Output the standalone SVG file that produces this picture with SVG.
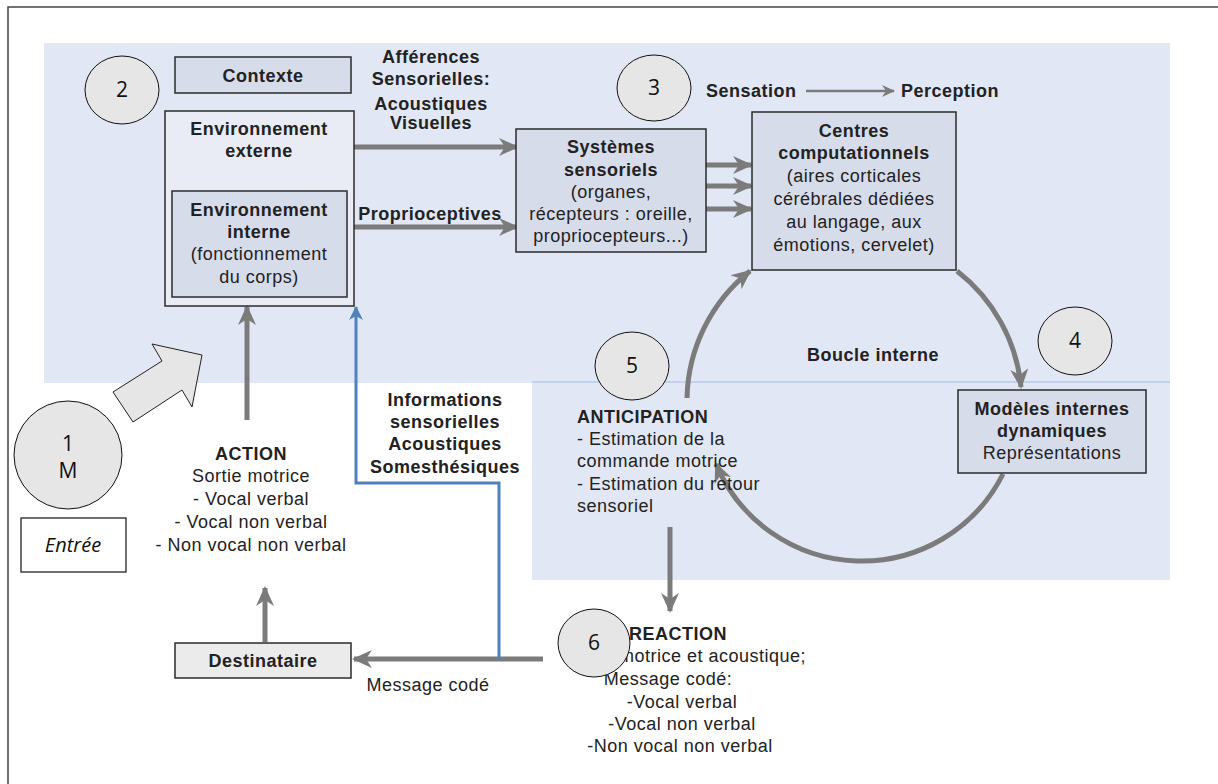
<svg xmlns="http://www.w3.org/2000/svg" width="1218" height="784" viewBox="0 0 1218 784">
<defs>
<marker id="ah" markerUnits="userSpaceOnUse" markerWidth="22" markerHeight="20" refX="18" refY="10" orient="auto">
<path d="M0,1 L20,10 L0,19 L6,10 z" fill="#7b7b7b"/>
</marker>
<marker id="ahs" markerUnits="userSpaceOnUse" markerWidth="14" markerHeight="12" refX="12" refY="6" orient="auto">
<path d="M0,0 L13,6 L0,12 L4,6 z" fill="#7b7b7b"/>
</marker>
<marker id="ahb" markerUnits="userSpaceOnUse" markerWidth="16" markerHeight="14" refX="13" refY="7" orient="auto">
<path d="M0,0 L14,7 L0,14 L4,7 z" fill="#4f81bd"/>
</marker>
</defs>
<style>
.t{font-family:"Liberation Sans",Arial,sans-serif;font-size:18px;letter-spacing:0.5px;fill:#222;text-anchor:middle}
.b{font-weight:bold}
.l{text-anchor:start}
.n{font-family:"Open Sans",sans-serif;font-size:21px;fill:#111;text-anchor:middle}
.c{fill:#e6e6e6;stroke:#111;stroke-width:1}
.box{fill:#d7dcea;stroke:#2b2b2b;stroke-width:1.5}
.g{fill:none;stroke:#7b7b7b;stroke-width:5}
</style>
<rect x="0" y="0" width="1218" height="784" fill="#ffffff"/>
<rect x="8" y="7" width="1240" height="800" fill="none" stroke="#444" stroke-width="1.5"/>
<path d="M44,43 H1170 V580 H532 V383 H44 Z" fill="#e1e7f4"/>
<path d="M532,382 H1170" stroke="#b9c8e6" stroke-width="1.5"/>

<g id="connectors">
<path class="g" d="M354,147 H517" marker-end="url(#ah)"/>
<path class="g" d="M354,227 H517" marker-end="url(#ah)"/>
<path class="g" d="M706,165 H751" marker-end="url(#ah)"/>
<path class="g" d="M706,186 H751" marker-end="url(#ah)"/>
<path class="g" d="M706,209 H751" marker-end="url(#ah)"/>
<path d="M806,91 H894" stroke="#7b7b7b" stroke-width="2.5" fill="none" marker-end="url(#ahs)"/>
<path class="g" d="M957,271 A167,167 0 0 1 1021,387" marker-end="url(#ah)"/>
<path class="g" d="M1003,474 A158,158 0 0 1 716,464" marker-end="url(#ah)"/>
<path class="g" d="M687,398 A167,167 0 0 1 750,271" marker-end="url(#ah)"/>
<path class="g" d="M670,527 V611" marker-end="url(#ah)"/>
<path class="g" d="M543,659 H354" marker-end="url(#ah)"/>
<path class="g" d="M247,420 V307" marker-end="url(#ah)"/>
<path class="g" d="M265,642 V588" marker-end="url(#ah)"/>
<path d="M499,659 V483 H356 V307" fill="none" stroke="#4f81bd" stroke-width="3" marker-end="url(#ahb)"/>
<polygon points="113,392 162,361 152,344 202,355 192,407 182,390 133,422" fill="#e6e6e6" stroke="#222" stroke-width="1"/>
</g>

<g id="contexte">
<rect class="box" x="175" y="57" width="176" height="36"/>
<text class="t b" x="263" y="82">Contexte</text>
</g>
<g id="env-externe">
<rect x="165" y="111" width="189" height="195" fill="#e9ecf5" stroke="#2b2b2b" stroke-width="1.5"/>
<text class="t b" x="259" y="135">Environnement</text>
<text class="t b" x="259" y="157">externe</text>
</g>
<g id="env-interne">
<rect class="box" x="172" y="191" width="175" height="106"/>
<text class="t b" x="259" y="216">Environnement</text>
<text class="t b" x="259" y="238">interne</text>
<text class="t" x="259" y="260">(fonctionnement</text>
<text class="t" x="259" y="283">du corps)</text>
</g>
<g id="afferences">
<text class="t b" x="431" y="63">Afférences</text>
<text class="t b" x="431" y="85">Sensorielles:</text>
<text class="t b" x="431" y="110">Acoustiques</text>
<text class="t b" x="431" y="129">Visuelles</text>
<text class="t b" x="430" y="220">Proprioceptives</text>
</g>
<g id="systemes">
<rect class="box" x="516" y="129" width="190" height="123"/>
<text class="t b" x="611" y="153">Systèmes</text>
<text class="t b" x="611" y="176">sensoriels</text>
<text class="t" x="611" y="198">(organes,</text>
<text class="t" x="611" y="220">récepteurs : oreille,</text>
<text class="t" x="611" y="242">propriocepteurs...)</text>
</g>
<g id="sensation">
<text class="t b l" x="706" y="97">Sensation</text>
<text class="t b l" x="901" y="97">Perception</text>
</g>
<g id="centres">
<rect class="box" x="752" y="112" width="204" height="158"/>
<text class="t b" x="854" y="137">Centres</text>
<text class="t b" x="854" y="159">computationnels</text>
<text class="t" x="854" y="182">(aires corticales</text>
<text class="t" x="854" y="205">cérébrales dédiées</text>
<text class="t" x="854" y="228">au langage, aux</text>
<text class="t" x="854" y="251">émotions, cervelet)</text>
</g>
<g id="boucle">
<text class="t b" x="873" y="361">Boucle interne</text>
</g>
<g id="modeles">
<rect class="box" x="958" y="390" width="188" height="83"/>
<text class="t b" x="1052" y="415">Modèles internes</text>
<text class="t b" x="1052" y="437">dynamiques</text>
<text class="t" x="1052" y="459">Représentations</text>
</g>
<g id="anticipation">
<text class="t b l" x="577" y="423">ANTICIPATION</text>
<text class="t l" x="577" y="445">- Estimation de la</text>
<text class="t l" x="577" y="467">commande motrice</text>
<text class="t l" x="577" y="490">- Estimation du retour</text>
<text class="t l" x="577" y="512">sensoriel</text>
</g>
<g id="informations">
<text class="t b" x="445" y="406">Informations</text>
<text class="t b" x="445" y="428">sensorielles</text>
<text class="t b" x="445" y="450">Acoustiques</text>
<text class="t b" x="445" y="473">Somesthésiques</text>
</g>
<g id="action">
<text class="t b" x="251" y="460">ACTION</text>
<text class="t" x="251" y="482">Sortie motrice</text>
<text class="t" x="251" y="505">- Vocal verbal</text>
<text class="t" x="251" y="528">- Vocal non verbal</text>
<text class="t" x="251" y="551">- Non vocal non verbal</text>
</g>
<g id="destinataire">
<rect x="175" y="643" width="176" height="35" fill="#ebebeb" stroke="#2b2b2b" stroke-width="1.5"/>
<text class="t b" x="263" y="667">Destinataire</text>
<text class="t" x="428" y="691">Message codé</text>
</g>
<g id="reaction">
<text class="t b" x="678" y="640">REACTION</text>
<text class="t l" x="619" y="662">motrice et acoustique;</text>
<text class="t" x="668" y="685">Message codé:</text>
<text class="t" x="682" y="708">-Vocal verbal</text>
<text class="t" x="682" y="730">-Vocal non verbal</text>
<text class="t" x="680" y="752">-Non vocal non verbal</text>
</g>
<g id="circle-1">
<ellipse class="c" cx="68" cy="455" rx="54" ry="54"/>
<text class="n" x="68" y="451">1</text>
<text class="n" x="68" y="478">M</text>
</g>
<g id="entree">
<rect x="21" y="518" width="105" height="54" fill="#fff" stroke="#111" stroke-width="1.2"/>
<text x="73" y="552" font-family="Open Sans, sans-serif" font-style="italic" font-size="20" fill="#111" text-anchor="middle">Entrée</text>
</g>
<g id="circle-2"><ellipse class="c" cx="122" cy="90" rx="37" ry="34"/><text class="n" x="122" y="97">2</text></g>
<g id="circle-3"><ellipse class="c" cx="654" cy="88" rx="37" ry="33"/><text class="n" x="654" y="95">3</text></g>
<g id="circle-4"><ellipse class="c" cx="1075" cy="341" rx="37" ry="34"/><text class="n" x="1075" y="348">4</text></g>
<g id="circle-5"><ellipse class="c" cx="632" cy="366" rx="37" ry="34"/><text class="n" x="632" y="373">5</text></g>
<g id="circle-6"><ellipse class="c" cx="594" cy="643" rx="36" ry="34"/><text class="n" x="594" y="650">6</text></g>
</svg>
